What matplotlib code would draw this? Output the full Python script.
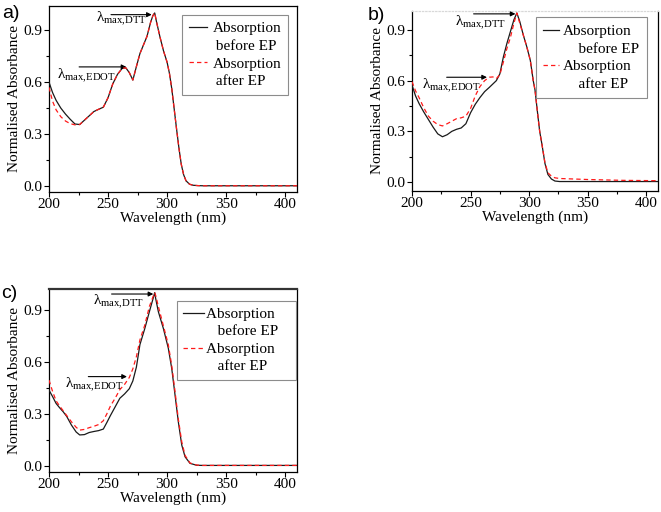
import matplotlib
matplotlib.use("Agg")
import matplotlib.pyplot as plt
from matplotlib.lines import Line2D
from matplotlib.ticker import MultipleLocator

plt.rcParams['font.family'] = ['Liberation Serif', 'DejaVu Serif']
plt.rcParams['mathtext.fontset'] = 'custom'
plt.rcParams['mathtext.rm'] = 'Liberation Serif'
plt.rcParams['mathtext.it'] = 'Liberation Serif:italic'

# ---------------- data ----------------
# Panel a
wl_a = [200, 203, 206, 210, 214, 218, 222, 226, 230, 234, 238, 242, 246, 250, 254,
        258, 262, 265, 268, 271, 274, 277, 280, 283, 286, 288, 289.5, 291, 294, 297,
        300, 302, 304, 306, 308, 310, 312, 314, 316, 319, 322, 326, 330, 350, 380, 410]
before_a = [0.60, 0.54, 0.495, 0.45, 0.415, 0.385, 0.358, 0.355, 0.38, 0.405, 0.43, 0.443, 0.455, 0.51, 0.59,
            0.645, 0.68, 0.683, 0.655, 0.612, 0.69, 0.765, 0.815, 0.865, 0.945, 0.985, 1.0, 0.95, 0.86, 0.78,
            0.715, 0.65, 0.56, 0.445, 0.33, 0.22, 0.125, 0.065, 0.03, 0.01, 0.004, 0.002, 0.001, 0.001, 0.001, 0.001]
after_a = [0.57, 0.49, 0.44, 0.40, 0.375, 0.36, 0.353, 0.355, 0.38, 0.405, 0.43, 0.443, 0.455, 0.51, 0.59,
           0.645, 0.68, 0.683, 0.655, 0.612, 0.69, 0.765, 0.815, 0.865, 0.945, 0.985, 1.0, 0.95, 0.86, 0.78,
           0.715, 0.65, 0.56, 0.445, 0.33, 0.22, 0.125, 0.065, 0.03, 0.01, 0.004, 0.002, 0.001, 0.001, 0.001, 0.001]

# Panel b
wl_b = [200, 203, 206, 210, 214, 218, 222, 226, 230, 234, 238, 242, 246, 250, 254,
        258, 262, 266, 269, 272, 275, 278, 281, 284, 287, 289.5, 292, 295, 298, 301,
        303.5, 305, 307, 309, 311, 313.5, 316, 319, 322, 326, 330, 350, 380, 410]
before_b = [0.574, 0.51, 0.465, 0.415, 0.37, 0.325, 0.285, 0.268, 0.28, 0.30, 0.312, 0.32, 0.345, 0.41, 0.46,
            0.50, 0.535, 0.56, 0.58, 0.60, 0.64, 0.74, 0.82, 0.89, 0.96, 1.0, 0.95, 0.87, 0.80, 0.72,
            0.60, 0.545, 0.42, 0.30, 0.22, 0.11, 0.045, 0.018, 0.006, 0.003, 0.003, 0.003, 0.003, 0.003]
after_b = [0.594, 0.54, 0.50, 0.44, 0.39, 0.36, 0.34, 0.332, 0.345, 0.36, 0.375, 0.38, 0.39, 0.435, 0.51,
           0.565, 0.60, 0.62, 0.622, 0.612, 0.635, 0.71, 0.79, 0.855, 0.94, 1.0, 0.94, 0.87, 0.80, 0.72,
           0.60, 0.545, 0.42, 0.30, 0.22, 0.115, 0.055, 0.035, 0.025, 0.021, 0.02, 0.015, 0.01, 0.008]

# Panel c
wl_c = [200, 203, 206, 209, 212, 215, 219, 223, 226, 230, 234, 238, 242, 246, 249,
        252, 256, 260, 264, 268, 271, 274, 277, 281, 285, 288.3, 289.5, 290.5, 292.6, 296.8,
        301, 303.9, 306.7, 309.5, 312.4, 315.2, 319.4, 325, 330, 350, 380, 410]
before_c = [0.437, 0.40, 0.36, 0.335, 0.312, 0.285, 0.235, 0.195, 0.178, 0.18, 0.192, 0.198, 0.203, 0.212, 0.25,
            0.29, 0.34, 0.39, 0.415, 0.445, 0.49, 0.57, 0.70, 0.79, 0.89, 0.97, 1.0, 0.96, 0.89, 0.794,
            0.68, 0.563, 0.41, 0.254, 0.12, 0.052, 0.014, 0.003, 0.002, 0.002, 0.002, 0.002]
after_c = [0.495, 0.43, 0.375, 0.345, 0.318, 0.29, 0.254, 0.222, 0.206, 0.21, 0.22, 0.228, 0.238, 0.26, 0.30,
           0.345, 0.39, 0.44, 0.47, 0.51, 0.56, 0.63, 0.727, 0.81, 0.92, 0.98, 1.0, 0.98, 0.92, 0.81,
           0.70, 0.58, 0.43, 0.27, 0.139, 0.06, 0.016, 0.004, 0.002, 0.002, 0.002, 0.002]

xticks = [200, 250, 300, 350, 400]
yticks = [0.0, 0.3, 0.6, 0.9]
xlabel = "Wavelength (nm)"
ylabel = "Normalised Absorbance"
label_abs = "Absorption"
label_before = "before EP"
label_after = "after EP"

# ---------------- figure ----------------
W, H = 661, 512
fig = plt.figure(figsize=(W / 100, H / 100), dpi=100)


def px_axes(x0, y0, x1, y1):
    return fig.add_axes([x0 / W, 1 - y1 / H, (x1 - x0) / W, (y1 - y0) / H])


panels = [
    dict(box=(49, 6, 297, 192), ylim=(-0.035, 1.04), wl=wl_a, b=before_a, a=after_a,
         edot=dict(txt=(206.5, 0.615), arr=(225.5, 265.5, 0.688)),
         dtt=dict(txt=(240, 0.945), arr=(252.5, 287.0, 0.99)),
         leg=dict(anchor=(0.964, 0.952), hl=1.2, htp=0.35, bp=0.45, ind=1, trail=0),
         lab=("a)", 2, 5)),
    dict(box=(412, 11, 658, 191), ylim=(-0.053, 1.012), wl=wl_b, b=before_b, a=after_b,
         edot=dict(txt=(208.3, 0.55), arr=(229.6, 264.0, 0.62)),
         dtt=dict(txt=(237, 0.925), arr=(252.6, 288.3, 0.995)),
         leg=dict(anchor=(0.955, 0.967), hl=1.0, htp=0.3, bp=0.5, ind=4, trail=0),
         lab=("b)", 368, 7)),
    dict(box=(49, 289, 297, 472), ylim=(-0.036, 1.021), wl=wl_c, b=before_c, a=after_c,
         edot=dict(txt=(213.5, 0.45), arr=(233.3, 266.0, 0.515)),
         dtt=dict(txt=(237.5, 0.925), arr=(253.0, 288.3, 0.992)),
         leg=dict(anchor=(0.996, 0.934), hl=1.4, htp=0.1, bp=0.4, ind=3, trail=4),
         lab=("c)", 1, 285)),
]

for p in panels:
    ax = px_axes(*p['box'])
    ax.plot(p['wl'], p['b'], color='#1a1a1a', lw=0.9, zorder=3)
    ax.plot(p['wl'], p['a'], color='#ff1a1a', lw=0.9, ls=(0, (3.5, 2.5)), zorder=4)
    ax.set_xlim(200, 410)
    ax.set_ylim(*p['ylim'])
    ax.set_xticks(xticks)
    ax.set_yticks(yticks)
    ax.set_yticklabels([f"{v:.1f}" for v in yticks])
    ax.xaxis.set_minor_locator(MultipleLocator(25))
    ax.yaxis.set_minor_locator(MultipleLocator(0.15))
    ax.tick_params(which='both', direction='out', top=False, right=False, labelsize=11,
                   width=0.8, pad=1)
    ax.tick_params(which='major', length=3.5)
    ax.tick_params(which='minor', length=2)
    ax.set_xlabel(xlabel, fontsize=11, labelpad=0)
    ax.set_ylabel(ylabel, fontsize=11, labelpad=2)
    for s in ax.spines.values():
        s.set_linewidth(0.9)
    if p['lab'][0] == "b)":
        ax.spines['top'].set_color('#d8d8d8')
        ax.spines['top'].set_linestyle(':')
    if p['lab'][0] == "c)":
        ax.spines['top'].set_linewidth(1.6)
        ax.spines['top'].set_color('#333333')

    # annotations
    e = p['edot']
    ax.text(e['txt'][0], e['txt'][1], "λ$_{\\mathrm{max{,}EDOT}}$", fontsize=11,
            ha='left', va='baseline', zorder=5)
    ax.annotate('', xy=(e['arr'][1], e['arr'][2]), xytext=(e['arr'][0], e['arr'][2]),
                arrowprops=dict(arrowstyle='-|>', color='black', lw=0.8,
                                mutation_scale=7, shrinkA=0, shrinkB=0))
    d = p['dtt']
    ax.text(d['txt'][0], d['txt'][1], "λ$_{\\mathrm{max{,}DTT}}$", fontsize=11,
            ha='left', va='baseline', zorder=5)
    ax.annotate('', xy=(d['arr'][1], d['arr'][2]), xytext=(d['arr'][0], d['arr'][2]),
                arrowprops=dict(arrowstyle='-|>', color='black', lw=0.8,
                                mutation_scale=7, shrinkA=0, shrinkB=0))

    # legend
    L = p['leg']
    ind = " " * L['ind']
    trail = " " * L['trail']
    labels = [label_abs + trail, ind + label_before, label_abs + trail, ind + label_after]
    handles = [Line2D([], [], color='#1a1a1a', lw=0.9),
               Line2D([], [], color='none'),
               Line2D([], [], color='#ff1a1a', lw=0.9, ls=(0, (3.5, 2.5))),
               Line2D([], [], color='none')]
    leg = ax.legend(handles, labels, loc='upper right', bbox_to_anchor=L['anchor'],
                    fontsize=11, frameon=True, fancybox=False, edgecolor='#8c8c8c',
                    framealpha=1, borderaxespad=0, labelspacing=0.25,
                    handlelength=L['hl'], handletextpad=L['htp'], borderpad=L['bp'])
    leg.get_frame().set_linewidth(0.8)

    t, lx, ly = p['lab']
    fig.text(lx / W, 1 - ly / H, t, fontsize=14, family=['Liberation Sans', 'DejaVu Sans'],
             ha='left', va='top')

fig.savefig("out.png", dpi=100)
